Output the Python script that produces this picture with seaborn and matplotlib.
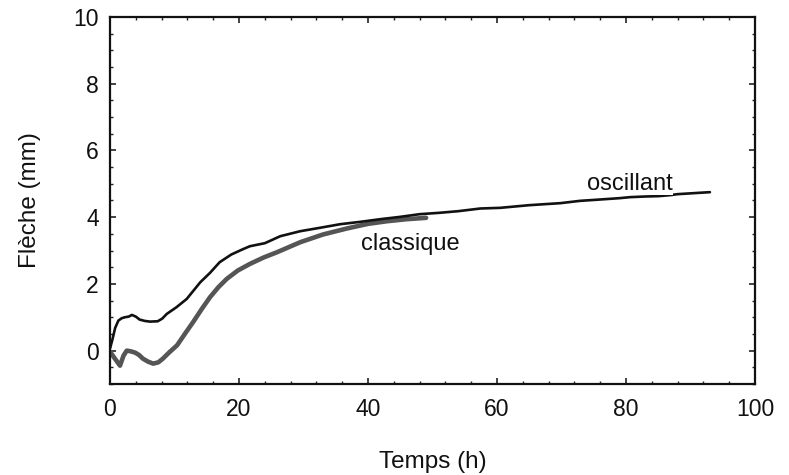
import matplotlib
matplotlib.use("Agg")
import matplotlib.pyplot as plt
from matplotlib.ticker import MultipleLocator
import seaborn as sns
import pandas as pd

# Oscillant (black)
osc_t = [0.0, 0.4, 0.8, 1.3, 1.8, 2.3, 2.9, 3.4, 4.0, 4.6, 5.4, 6.2, 7.4, 8.1, 8.8, 10.3, 11.9, 14.0, 15.5, 17.0, 18.8, 20.6,
         21.7, 24.0, 26.4, 29.5, 32.5, 35.7, 38.8, 41.9, 45.0, 48.0, 51.0, 54.0,
         57.4, 60.5, 65.0, 69.8, 72.9, 76.0, 79.0, 80.6, 83.0, 85.0, 86.8, 88.0, 90.5, 93.0]
osc_y = [0.06, 0.35, 0.68, 0.90, 0.97, 1.00, 1.02, 1.07, 1.02, 0.93, 0.89, 0.87, 0.88, 0.96, 1.10, 1.30, 1.55, 2.05, 2.33, 2.65, 2.88, 3.04,
         3.13, 3.22, 3.43, 3.58, 3.68, 3.79, 3.86, 3.94, 4.01, 4.09, 4.13, 4.18,
         4.26, 4.28, 4.36, 4.42, 4.49, 4.53, 4.57, 4.60, 4.62, 4.63, 4.66, 4.69, 4.72, 4.75]

# Classique (grey)
cla_t = [0.0, 0.8, 1.55, 2.1, 2.6, 3.2, 3.9, 4.5, 5.1, 5.9, 6.7, 7.5, 8.2, 9.2, 10.4, 11.6, 12.9, 14.2, 15.5, 16.8, 18.1, 19.8,
         21.7, 23.8, 25.9, 29.5, 33.0, 36.7, 40.0, 43.0, 46.0, 49.0]
cla_y = [-0.03, -0.25, -0.45, -0.15, 0.00, -0.02, -0.06, -0.13, -0.24, -0.33, -0.39, -0.35, -0.24, -0.05, 0.16, 0.50, 0.86, 1.24, 1.60, 1.90, 2.15, 2.40,
         2.60, 2.79, 2.95, 3.25, 3.48, 3.66, 3.80, 3.88, 3.94, 3.98]

labels = ["oscillant", "classique"]
label_pos = [(80.6, 5.0), (46.5, 3.2)]

df_osc = pd.DataFrame({"t": osc_t, "y": osc_y})
df_cla = pd.DataFrame({"t": cla_t, "y": cla_y})

sns.set_theme(style="ticks")
plt.rcParams["font.family"] = ["Liberation Sans", "DejaVu Sans"]

fig = plt.figure(figsize=(7.89, 4.75), dpi=100)
ax = fig.add_axes([0.1394, 0.1916, 0.8176, 0.7726])

sns.lineplot(data=df_cla, x="t", y="y", ax=ax, color="#555555", lw=3.3, sort=False)
sns.lineplot(data=df_osc, x="t", y="y", ax=ax, color="#111111", lw=1.9, sort=False)

for lab, (xx, yy) in zip(labels, label_pos):
    ax.text(xx, yy, lab, ha="center", va="center", fontsize=17, color="#111111",
            bbox=dict(facecolor="white", edgecolor="none", pad=0.2))

ax.set_xlim(0, 100)
ax.set_ylim(-1, 10)
ax.xaxis.set_major_locator(MultipleLocator(20))
ax.xaxis.set_minor_locator(MultipleLocator(4))
ax.yaxis.set_major_locator(MultipleLocator(2))
ax.yaxis.set_minor_locator(MultipleLocator(0.5))
ax.tick_params(which="both", direction="in", top=True, right=True, color="#222222",
               labelsize=16.5, labelcolor="#111111")
ax.tick_params(which="major", length=4, width=1.2)
ax.tick_params(axis="x", which="major", pad=10)
ax.tick_params(axis="y", which="major", pad=8)
ax.tick_params(which="minor", length=2.5, width=1.0)
for s in ax.spines.values():
    s.set_linewidth(1.6)
    s.set_color("#111111")
    s.set_visible(True)
ax.set_xlabel("Temps (h)", fontsize=17.5, color="#111111", labelpad=22)
ax.set_ylabel("Flèche (mm)", fontsize=17.5, color="#111111", labelpad=23)

fig.savefig("out.png", dpi=100, facecolor="white")
